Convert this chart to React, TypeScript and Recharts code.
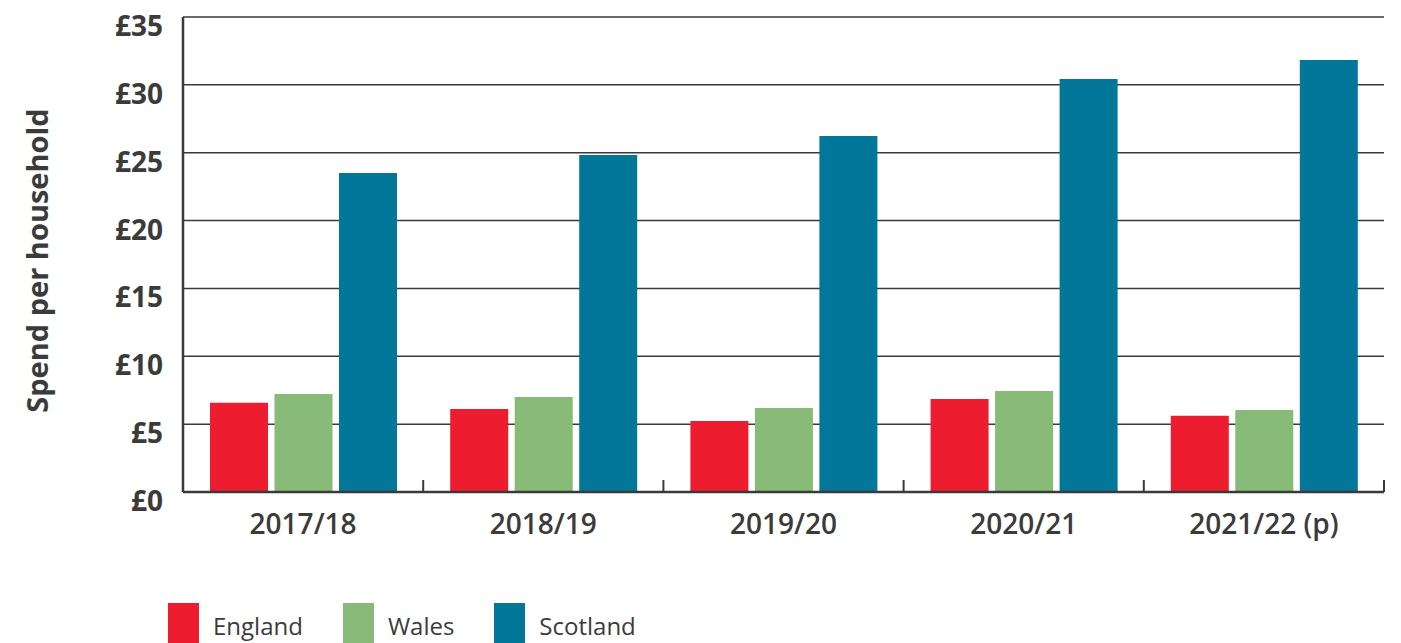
import React from "react";
import { BarChart, Bar, XAxis, YAxis, CartesianGrid, Legend } from "recharts";

const YEARS = ["2017/18", "2018/19", "2019/20", "2020/21", "2021/22 (p)"];
const ENGLAND = [6.58, 6.12, 5.23, 6.85, 5.62];
const WALES = [7.22, 7.0, 6.19, 7.44, 6.04];
const SCOTLAND = [23.5, 24.83, 26.23, 30.43, 31.83];
const Y_TICKS = [0, 5, 10, 15, 20, 25, 30, 35];

const SERIES = [
  { key: "england", name: "England", color: "#ed1c2e", values: ENGLAND },
  { key: "wales", name: "Wales", color: "#88bb78", values: WALES },
  { key: "scotland", name: "Scotland", color: "#03779a", values: SCOTLAND },
];

const data = YEARS.map((year, i) => {
  const row: Record<string, string | number> = { year };
  SERIES.forEach((s) => {
    row[s.key] = s.values[i];
  });
  return row;
});

const FONT = "'Open Sans', sans-serif";
const TEXT = "#3b3b3b";
const LINE = "#3a3a3a";
const X_TICK_MARGIN = 22;

function YTick({ x, y, payload }: any) {
  return (
    <text
      x={x}
      y={y + 8}
      textAnchor="end"
      dominantBaseline="central"
      fill={TEXT}
      fontFamily={FONT}
      fontWeight={700}
      fontSize={28}
    >
      £{payload.value}
    </text>
  );
}

// year label centred in band + small upward tick at the band's right edge
function XTick({ x, y, payload }: any) {
  const axisY = y - X_TICK_MARGIN;
  const edge = x + (payload.offset ?? 0);
  return (
    <g>
      <line x1={edge} x2={edge} y1={axisY - 12} y2={axisY} stroke={LINE} strokeWidth={2} />
      <text
        x={x}
        y={y}
        dy="0.71em"
        textAnchor="middle"
        fill={TEXT}
        fontFamily={FONT}
        fontWeight={600}
        fontSize={28}
      >
        {payload.value}
      </text>
    </g>
  );
}

function YLabel({ viewBox }: any) {
  const cy = viewBox.y + viewBox.height / 2 + 6;
  return (
    <text
      x={36}
      y={cy}
      transform={`rotate(-90 36 ${cy})`}
      textAnchor="middle"
      dominantBaseline="central"
      fill={TEXT}
      fontFamily={FONT}
      fontWeight={700}
      fontSize={29}
    >
      Spend per household
    </text>
  );
}

function LegendContent() {
  return (
    <div style={{ display: "flex", alignItems: "flex-start", fontFamily: FONT }}>
      {SERIES.map((s) => (
        <div key={s.key} style={{ display: "flex", alignItems: "flex-start", marginRight: 40 }}>
          <div style={{ width: 31, height: 40, background: s.color }} />
          <span
            style={{
              marginLeft: 14,
              marginTop: 7,
              fontSize: 24,
              lineHeight: "32px",
              color: TEXT,
              fontWeight: 500,
            }}
          >
            {s.name}
          </span>
        </div>
      ))}
    </div>
  );
}

export default function App() {
  return (
    <div style={{ position: "absolute", left: 0, top: 0, width: 1401, height: 643, overflow: "hidden", background: "#fff" }}>
      <BarChart
        width={1401}
        height={643}
        data={data}
        margin={{ top: 17, right: 17, left: 0, bottom: 101 }}
        barCategoryGap={27}
        barGap={6.5}
      >
        <CartesianGrid vertical={false} stroke={LINE} strokeWidth={1.5} />
        <XAxis
          dataKey="year"
          height={50}
          axisLine={{ stroke: LINE, strokeWidth: 2.5 }}
          tickLine={false}
          tickSize={0}
          tickMargin={X_TICK_MARGIN}
          interval={0}
          tick={<XTick />}
        />
        <YAxis
          width={183}
          domain={[0, 35]}
          ticks={Y_TICKS}
          interval={0}
          axisLine={{ stroke: LINE, strokeWidth: 2.5 }}
          tickLine={false}
          tickSize={0}
          tickMargin={20}
          tick={<YTick />}
          label={{ value: "Spend per household", content: (p: any) => <YLabel {...p} /> }}
        />
        {SERIES.map((s) => (
          <Bar key={s.key} dataKey={s.key} name={s.name} fill={s.color} isAnimationActive={false} />
        ))}
        <Legend
          layout="horizontal"
          verticalAlign="middle"
          align="center"
          content={<LegendContent />}
          wrapperStyle={{ top: 603, left: 168, width: "auto" }}
        />
      </BarChart>
    </div>
  );
}
